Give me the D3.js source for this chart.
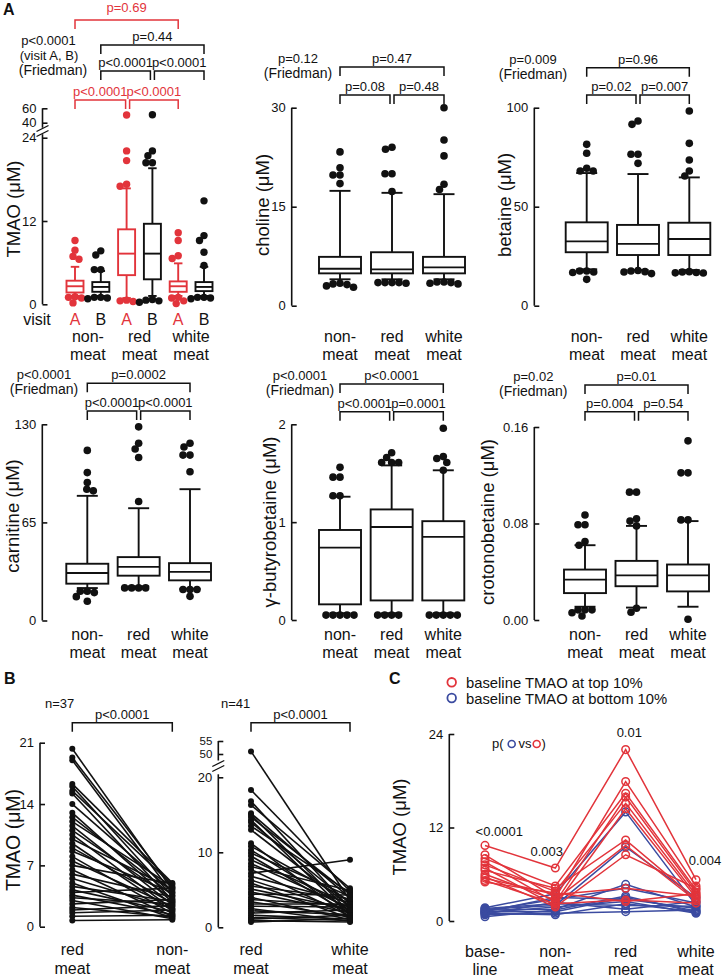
<!DOCTYPE html>
<html><head><meta charset="utf-8">
<script src="https://cdn.jsdelivr.net/npm/d3@7"></script>
<style>body{margin:0;background:#fff}</style>
</head><body><script>
// ---------------- DATA ----------------
const mealCats = ["non-meat", "red meat", "white meat"];
const mealLabels = [["non-", "meat"], ["red", "meat"], ["white", "meat"]];
const tmaoGroups = ["nonA", "nonB", "redA", "redB", "whiteA", "whiteB"];
const visitLabels = ["A", "B", "A", "B", "A", "B"];

// box stats: [lower whisker, q1, median, q3, upper whisker]
const tmaoBox = [[1.2,1.7,2.6,3.4,5.4],[1.2,1.8,2.5,3.2,4.8],[0.9,4.2,7.3,10.8,16.7],[1.2,3.6,7.3,11.6,19.6],[1.2,1.8,2.6,3.3,5.9],[1.2,1.9,2.5,3.2,5.4]];
const tmaoOut = [[9.2,7.8,6.9,6.5,1.0,0.9,1.1,0.2],[7.7,7.1,5.0,5.0,1.0,1.0,0.9,0.8],[50.7,22.1,20.7,17.3,17.0,0.6,0.5,0.4],[51,22.1,21.4,20.4,20.4,0.7,0.5,0.3,0.6],[10.3,9.2,7.0,6.6,1.0,0.9,0.5,0.1],[14.9,9.9,9.2,7.5,5.6,1.0,0.9,1.0,0.8]];

const cholineBox = [[4.0,4.9,5.6,7.4,17.4],[4.0,4.9,5.5,8.1,17.1],[4.0,4.9,5.8,7.4,16.9]];
const cholineOut = [[23.3,20.9,19.8,19.8,18.5,3.4,3.2,3.0,2.8,3.3],[24.0,23.7,20.0,20.0,17.3,3.5,3.5,3.4,3.5,3.5],[30,25.1,22.7,18.4,17.6,3.6,3.4,3.5,3.3,3.6]];

const betaineBox = [[18.4,27,32.5,42.1,67],[18,25.6,31.2,40.8,66.5],[18,25.6,33.7,41.9,64.8]];
const betaineOut = [[81.5,77,69.4,68,68,17.5,17.5,17,16.8,13.3],[93.3,91.6,76.5,76.5,71.9,17.8,17.5,17.2,17.0,16.2],[98.3,82,73.6,68,65.5,17.2,17.0,16.6,16.5,16.8]];

const carnitineBox = [[21.5,24.4,31.5,37.6,82.6],[22.7,29.7,35.5,42,74.4],[21,26.6,32.2,38,87]];
const carnitineOut = [[112.7,98,91.4,87,85.9,19.4,19.4,18.5,15.8,12.8],[128.3,117.4,113.6,108,78.8,21.6,21.6,21.6,21.6],[117.4,115,109.6,109.6,98.6,20.5,20.5,20.5,16]];

const gbbBox = [[0.07,0.16,0.74,0.92,1.26],[0.07,0.2,0.95,1.13,1.58],[0.07,0.2,0.85,1.01,1.53]];
const gbbOut = [[1.56,1.46,1.46,1.27,1.27,0.05,0.05,0.05,0.05,0.05],[1.71,1.66,1.61,1.61,1.61,0.05,0.05,0.05,0.05],[1.96,1.67,1.65,1.61,1.53,0.05,0.05,0.05,0.05,0.05]];

const crotBox = [[0.011,0.0223,0.0335,0.0418,0.062],[0.0103,0.028,0.037,0.049,0.078],[0.011,0.0237,0.037,0.046,0.082]];
const crotOut = [[0.087,0.079,0.079,0.065,0.062,0.0084,0.0084,0.0084,0.006,0.0033],[0.106,0.106,0.084,0.082,0.078,0.0098,0.0064],[0.1485,0.122,0.122,0.083,0.083,0.0006]];

// Panel B
const bLeftCats = ["red meat", "non-meat"];
const bRedVsNon_red = [20.3,19.3,19.0,16.3,16.0,15.5,15.2,14.0,13.0,12.5,12.0,11.5,11.0,10.5,10.0,9.5,9.0,8.6,8.0,7.5,7.0,6.5,6.0,5.5,5.0,4.6,4.2,3.9,3.6,3.3,3.0,2.6,2.2,1.9,1.6,1.2,0.7];
const bRedVsNon_non = [4.2,4.5,3.8,5.0,3.5,4.8,3.0,4.0,2.8,3.6,4.6,2.5,3.2,2.0,4.3,1.8,2.7,3.9,1.5,2.3,4.9,1.2,3.4,2.1,1.0,2.9,1.7,4.4,1.4,2.6,0.9,3.1,1.1,2.4,1.9,1.3,0.8];
const bRightCats = ["red meat", "white meat"];
const bRedVsWhite_red = [51,18.3,16.8,16.3,15.2,15.0,14.7,14.3,14.0,13.5,13.0,11.2,10.8,10.3,9.9,9.5,9.0,8.5,8.1,7.7,7.2,6.8,6.3,5.9,5.5,5.1,4.7,4.4,4.0,3.7,3.4,3.1,2.8,2.5,2.2,1.9,1.6,1.3,1.1,0.9,0.7];
const bRedVsWhite_white = [3.6,4.8,2.5,5.2,3.9,2.0,4.4,1.6,3.2,4.6,2.8,1.3,3.5,2.2,4.1,1.8,3.0,2.6,4.9,1.5,9.0,3.3,2.1,1.2,3.8,2.4,1.9,4.3,1.0,2.9,1.4,3.1,2.7,0.8,1.7,2.3,1.1,0.9,1.6,0.7,1.2];

// Panel C
const cCats = ["baseline", "non-meat", "red meat", "white meat"];
const cLabels = [["base-", "line"], ["non-", "meat"], ["red", "meat"], ["white", "meat"]];
const cTopBase  = [9.7,8.5,8.0,7.6,7.2,6.8,6.5,6.0,5.7,5.5,5.2,5.0];
const cTopNon   = [6.8,3.0,4.5,2.4,3.8,2.0,4.2,2.7,1.8,3.4,2.2,3.6];
const cTopRed   = [22.0,17.9,16.4,15.9,15.1,14.4,10.4,9.7,8.5,4.2,2.7,2.5];
const cTopWhite = [5.3,4.5,4.0,3.7,3.3,3.0,2.8,2.6,4.2,3.2,2.3,3.5];
const cBotBase  = [1.7,1.5,1.4,1.3,1.2,1.2,1.1,1.0,0.9,0.8,0.55,1.6];
const cBotNon   = [3.5,2.0,1.5,2.8,1.2,3.0,1.8,0.8,2.4,1.0,1.4,2.2];
const cBotRed   = [14.0,9.5,4.7,4.2,3.0,2.8,2.5,2.2,1.5,1.2,3.2,2.0];
const cBotWhite = [2.0,3.0,1.8,2.3,1.3,1.6,1.0,1.2,2.5,1.4,1.1,1.9];
const cPvals = ["<0.0001", "0.003", "0.01", "0.004"];

// ---------------- STYLE / HELPERS ----------------
const RED = "#e2343b", BLUE = "#3b4ba0", INK = "#111";
const FONT = '"Liberation Sans", Arial, Helvetica, sans-serif';
const svg = d3.select("body").append("svg").attr("width", 723).attr("height", 978)
  .style("font-family", FONT);

function T(x, y, s, size, opt = {}) {
  return svg.append("text").attr("x", x).attr("y", y).attr("font-size", size)
    .attr("text-anchor", opt.anchor || "middle").attr("fill", opt.color || INK)
    .attr("font-weight", opt.bold ? "bold" : null).text(s);
}
function vTitle(x, y, s, size) {
  svg.append("text").attr("transform", `translate(${x},${y}) rotate(-90)`)
    .attr("text-anchor", "middle").attr("font-size", size).attr("fill", INK).text(s);
}
function vline(x, y1, y2, w = 1.6) {
  svg.append("line").attr("x1", x).attr("x2", x).attr("y1", y1).attr("y2", y2)
    .attr("stroke", INK).attr("stroke-width", w);
}
function axis(scale, x, ticks, fmt, fs = 13) {
  const ax = d3.axisLeft(scale).tickValues(ticks).tickFormat(fmt || (d => d))
    .tickSizeInner(-5).tickSizeOuter(0).tickPadding(6);
  const a = svg.append("g").attr("transform", `translate(${x},0)`).call(ax);
  a.select(".domain").remove();
  a.selectAll("line").attr("stroke", INK).attr("stroke-width", 1.6);
  a.selectAll("text").attr("font-size", fs).attr("fill", INK).attr("font-family", FONT);
}
function brk(x, yc) {
  for (const o of [-2.5, 2.5]) {
    svg.append("line").attr("x1", x - 6).attr("y1", yc + o + 3).attr("x2", x + 6).attr("y2", yc + o - 3)
      .attr("stroke", INK).attr("stroke-width", 1.3);
  }
}
function bracket(x1, x2, y, label, color, ly) {
  svg.append("path").attr("d", `M${x1},${y + 9}V${y}H${x2}V${y + 9}`)
    .attr("fill", "none").attr("stroke", color).attr("stroke-width", 1.5);
  T((x1 + x2) / 2, ly != null ? ly : y - 4, label, 13, { color });
}
function swarm(vals, yf, minDist) {
  const placed = [];
  vals.slice().sort((a, b) => b - a).forEach(v => {
    const y = yf(v);
    let dx = 0;
    for (let k = 0; k < 400; k++) {
      const c = (k % 2 ? -1 : 1) * Math.ceil(k / 2) * 0.5;
      if (placed.every(p => Math.hypot(p.dx - c, p.y - y) >= minDist)) { dx = c; break; }
    }
    placed.push({ dx, y });
  });
  return placed;
}
function box(x, s, yf, w, color, outs, r) {
  const [lo, q1, md, q3, hi] = s, cw = w * 0.5;
  const g = svg.append("g").attr("stroke", color).attr("stroke-width", 1.9).attr("fill", "none");
  g.append("line").attr("x1", x).attr("x2", x).attr("y1", yf(q3)).attr("y2", yf(hi));
  g.append("line").attr("x1", x).attr("x2", x).attr("y1", yf(q1)).attr("y2", yf(lo));
  g.append("line").attr("x1", x - cw / 2).attr("x2", x + cw / 2).attr("y1", yf(hi)).attr("y2", yf(hi));
  g.append("line").attr("x1", x - cw / 2).attr("x2", x + cw / 2).attr("y1", yf(lo)).attr("y2", yf(lo));
  g.append("rect").attr("x", x - w / 2).attr("y", yf(q3)).attr("width", w).attr("height", yf(q1) - yf(q3)).attr("fill", "#fff");
  g.append("line").attr("x1", x - w / 2).attr("x2", x + w / 2).attr("y1", yf(md)).attr("y2", yf(md));
  swarm(outs, yf, r * 1.75).forEach(p => {
    svg.append("circle").attr("cx", x + p.dx).attr("cy", p.y).attr("r", r).attr("fill", color);
  });
}

// ---------------- PANEL A : TMAO ----------------
T(3, 15, "A", 16, { anchor: "start", bold: true });
const xT = d3.scalePoint().domain(tmaoGroups).range([75, 204]);
const yTlow = d3.scaleLinear().domain([0, 24]).range([304.3, 137.7]);
const yThigh = d3.scaleLinear().domain([40, 60]).range([122.7, 108.3]);
const yT = v => v > 30 ? yThigh(v) : yTlow(v);
const axT = 42.5;
vline(axT, yThigh(60), yThigh(33));
vline(axT, yTlow(24.5), yTlow(0));
axis(yThigh, axT, [40, 60]);
axis(yTlow, axT, [0, 12, 24]);
brk(axT, 131);
tmaoGroups.forEach((g, i) => box(xT(g), tmaoBox[i], yT, 17, i % 2 ? INK : RED, tmaoOut[i], 3.7));
vTitle(19.5, 209, "TMAO (\u03bcM)", 18.5);
T(37, 325, "visit", 16);
tmaoGroups.forEach((g, i) => T(xT(g), 325, visitLabels[i], 16, { color: i % 2 ? INK : RED }));
[0, 2, 4].forEach((i, k) => {
  const cx = (xT(tmaoGroups[i]) + xT(tmaoGroups[i + 1])) / 2;
  T(cx, 341.5, mealLabels[k][0], 16); T(cx, 359.5, mealLabels[k][1], 16);
});
bracket(xT("nonA"), xT("whiteA"), 20, "p=0.69", RED, 12);
bracket(xT("nonB"), xT("whiteB"), 45, "p=0.44", INK);
bracket(xT("nonB"), xT("redB") - 2, 71, "p<0.0001", INK);
bracket(xT("redB") + 2, xT("whiteB"), 71, "p<0.0001", INK);
bracket(xT("nonA"), xT("redA") - 1, 100, "p<0.0001", RED);
bracket(xT("redA") + 3, xT("whiteA"), 100, "p<0.0001", RED);
T(48.5, 45, "p<0.0001", 13); T(49, 60, "(visit A, B)", 13); T(53, 75, "(Friedman)", 14);

// ---------------- generic 3-box panel ----------------
function panel3(o) {
  const x = d3.scalePoint().domain(mealCats).range(o.xr);
  const y = d3.scaleLinear().domain(o.dom).range(o.yr);
  vline(o.ax, y(o.dom[1]), y(0));
  axis(y, o.ax, o.ticks, o.fmt);
  mealCats.forEach((c, i) => box(x(c), o.box[i], y, 42, INK, o.out[i], 3.8));
  vTitle(o.tx, o.ty, o.title, 18.5);
  mealCats.forEach((c, i) => { T(x(c), o.lab1, mealLabels[i][0], 16); T(x(c), o.lab2, mealLabels[i][1], 16); });
  bracket(x(mealCats[0]), x(mealCats[2]), o.b1, o.p[0], INK);
  bracket(x(mealCats[0]), x(mealCats[1]) - 2, o.b2, o.p[1], INK);
  bracket(x(mealCats[1]) + 2, x(mealCats[2]), o.b2, o.p[2], INK);
  T(o.fx, o.b1 - 4, o.fr, 13); T(o.fx, o.b1 + 11, "(Friedman)", 14);
}
panel3({ xr: [340, 444], dom: [0, 30], yr: [305.7, 107.7], ax: 291.7, ticks: [0, 15, 30], box: cholineBox, out: cholineOut,
  title: "choline (\u03bcM)", tx: 269, ty: 205, lab1: 341.5, lab2: 359.5, b1: 67, b2: 95, p: ["p=0.47", "p=0.08", "p=0.48"], fx: 298, fr: "p=0.12" });
panel3({ xr: [586.7, 689.3], dom: [0, 100], yr: [305.7, 107.7], ax: 534.3, ticks: [0, 50, 100], box: betaineBox, out: betaineOut,
  title: "betaine (\u03bcM)", tx: 511, ty: 205, lab1: 341.5, lab2: 359.5, b1: 67.7, b2: 95, p: ["p=0.96", "p=0.02", "p=0.007"], fx: 533, fr: "p=0.009" });
panel3({ xr: [87.3, 190], dom: [0, 130], yr: [620.5, 424.3], ax: 42.3, ticks: [0, 65, 130], box: carnitineBox, out: carnitineOut,
  title: "carnitine (\u03bcM)", tx: 18.5, ty: 516, lab1: 640, lab2: 658, b1: 383.3, b2: 411, p: ["p=0.0002", "p<0.0001", "p<0.0001"], fx: 44, fr: "p<0.0001" });
panel3({ xr: [340, 443.3], dom: [0, 2], yr: [620, 424.3], ax: 291.7, ticks: [0, 1, 2], box: gbbBox, out: gbbOut,
  title: "\u03b3-butyrobetaine (\u03bcM)", tx: 276, ty: 522, lab1: 640, lab2: 658, b1: 384, b2: 411.7, p: ["p<0.0001", "p<0.0001", "p=0.0001"], fx: 300, fr: "p<0.0001" });
panel3({ xr: [585, 688], dom: [0, 0.16], yr: [620, 427], ax: 534.3, ticks: [0, 0.08, 0.16], fmt: d3.format(".2f"), box: crotBox, out: crotOut,
  title: "crotonobetaine (\u03bcM)", tx: 493.5, ty: 522, lab1: 640, lab2: 658, b1: 385, b2: 411.7, p: ["p=0.01", "p=0.004", "p=0.54"], fx: 533.3, fr: "p=0.02" });

// ---------------- PANEL B ----------------
T(4, 683.5, "B", 16, { anchor: "start", bold: true });
// left
const xBL = d3.scalePoint().domain(bLeftCats).range([72.3, 172.3]);
const yBL = d3.scaleLinear().domain([0, 21]).range([926.7, 742.7]);
vline(40, yBL(21), yBL(0));
axis(yBL, 40, [0, 7, 14, 21]);
bRedVsNon_red.forEach((v, i) => {
  svg.append("line").attr("x1", xBL("red meat")).attr("y1", yBL(v)).attr("x2", xBL("non-meat")).attr("y2", yBL(bRedVsNon_non[i]))
    .attr("stroke", INK).attr("stroke-width", 1.6);
});
bRedVsNon_red.forEach((v, i) => {
  svg.append("circle").attr("cx", xBL("red meat")).attr("cy", yBL(v)).attr("r", 3).attr("fill", INK);
  svg.append("circle").attr("cx", xBL("non-meat")).attr("cy", yBL(bRedVsNon_non[i])).attr("r", 3).attr("fill", INK);
});
vTitle(20, 840, "TMAO (\u03bcM)", 19.5);
T(45, 708, "n=37", 13, { anchor: "start" });
bracket(xBL("red meat"), xBL("non-meat"), 722.7, "p<0.0001", INK);
T(xBL("red meat"), 955, "red", 16); T(xBL("red meat"), 974, "meat", 16);
T(xBL("non-meat"), 955, "non-", 16); T(xBL("non-meat"), 974, "meat", 16);
// right
const xBR = d3.scalePoint().domain(bRightCats).range([251, 350]);
const yBRlow = d3.scaleLinear().domain([0, 20]).range([927.3, 777.3]);
const yBRhigh = d3.scaleLinear().domain([50, 55]).range([754, 741]);
const yBR = v => v > 30 ? yBRhigh(v) : yBRlow(v);
const axBR = 218.3;
vline(axBR, yBRhigh(55), yBRhigh(47.5));
vline(axBR, yBRlow(20.4), yBRlow(0));
axis(yBRhigh, axBR, [50, 55], null, 11.5);
axis(yBRlow, axBR, [0, 10, 20]);
brk(axBR, 766);
bRedVsWhite_red.forEach((v, i) => {
  svg.append("line").attr("x1", xBR("red meat")).attr("y1", yBR(v)).attr("x2", xBR("white meat")).attr("y2", yBR(bRedVsWhite_white[i]))
    .attr("stroke", INK).attr("stroke-width", 1.6);
});
bRedVsWhite_red.forEach((v, i) => {
  svg.append("circle").attr("cx", xBR("red meat")).attr("cy", yBR(v)).attr("r", 3).attr("fill", INK);
  svg.append("circle").attr("cx", xBR("white meat")).attr("cy", yBR(bRedVsWhite_white[i])).attr("r", 3).attr("fill", INK);
});
T(221, 708, "n=41", 13, { anchor: "start" });
bracket(xBR("red meat"), xBR("white meat"), 722.7, "p<0.0001", INK);
T(xBR("red meat"), 955, "red", 16); T(xBR("red meat"), 974, "meat", 16);
T(xBR("white meat"), 955, "white", 16); T(xBR("white meat"), 974, "meat", 16);

// ---------------- PANEL C ----------------
T(389, 684, "C", 16, { anchor: "start", bold: true });
svg.append("circle").attr("cx", 451.7).attr("cy", 682.3).attr("r", 4.3).attr("fill", "none").attr("stroke", RED).attr("stroke-width", 1.8);
T(466, 687.5, "baseline TMAO at top 10%", 14.8, { anchor: "start" });
svg.append("circle").attr("cx", 451.7).attr("cy", 698).attr("r", 4.3).attr("fill", "none").attr("stroke", BLUE).attr("stroke-width", 1.8);
T(466, 703.5, "baseline TMAO at bottom 10%", 14.8, { anchor: "start" });

const xC = d3.scalePoint().domain(cCats).range([485, 696]);
const yC = d3.scaleLinear().domain([0, 24]).range([921, 734]);
vline(449.3, yC(24), yC(0));
axis(yC, 449.3, [0, 12, 24]);
vTitle(406, 827, "TMAO (\u03bcM)", 18.5);
cCats.forEach((c, i) => { T(xC(c), 956.5, cLabels[i][0], 16); T(xC(c), 975, cLabels[i][1], 16); });

function cGroup(series, color) {
  const n = series[0].length;
  const line = d3.line().x((d, j) => xC(cCats[j])).y(d => yC(d));
  for (let i = 0; i < n; i++) {
    svg.append("path").attr("d", line(series.map(s => s[i]))).attr("fill", "none").attr("stroke", color).attr("stroke-width", 1.5);
  }
  for (let i = 0; i < n; i++) series.forEach((s, j) => {
    svg.append("circle").attr("cx", xC(cCats[j])).attr("cy", yC(s[i])).attr("r", 3.8)
      .attr("fill", "none").attr("stroke", color).attr("stroke-width", 1.5);
  });
}
cGroup([cBotBase, cBotNon, cBotRed, cBotWhite], BLUE);
cGroup([cTopBase, cTopNon, cTopRed, cTopWhite], RED);

T(492, 748, "p(", 13, { anchor: "start" });
svg.append("circle").attr("cx", 511.7).attr("cy", 744).attr("r", 3.5).attr("fill", "none").attr("stroke", BLUE).attr("stroke-width", 1.6);
T(518.5, 748, "vs", 13, { anchor: "start" });
svg.append("circle").attr("cx", 536.7).attr("cy", 744).attr("r", 3.5).attr("fill", "none").attr("stroke", RED).attr("stroke-width", 1.6);
T(541.5, 748, ")", 13, { anchor: "start" });
T(499.3, 836, cPvals[0], 13);
T(546.7, 856, cPvals[1], 13);
T(629.3, 736.7, cPvals[2], 13);
T(705, 865, cPvals[3], 13);
</script></body></html>
